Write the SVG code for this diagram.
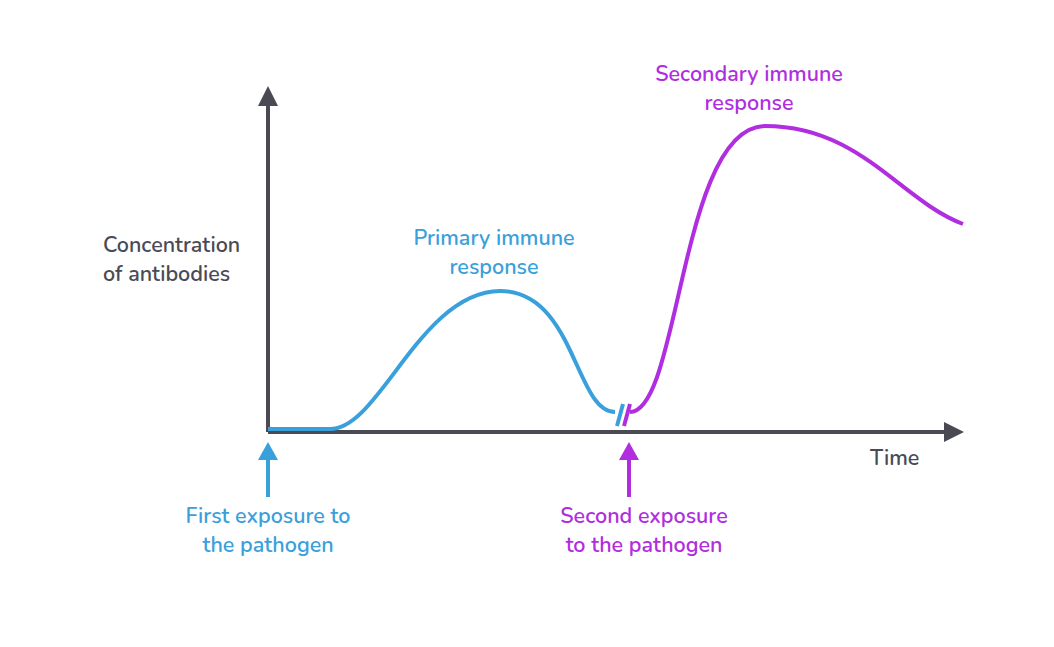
<svg xmlns="http://www.w3.org/2000/svg" width="1054" height="647" viewBox="0 0 1054 647">
<style>
text{font-family:"Nunito","Open Sans","Liberation Sans",sans-serif;font-size:21.5px;font-weight:600}
.ax{stroke:#4a4a55;stroke-width:4;fill:none}
.b{stroke:#3aa0dc;stroke-width:4;fill:none}
.p{stroke:#b02ee0;stroke-width:4;fill:none}
.tb{fill:#3aa0dc}.tp{fill:#b02ee0}.tg{fill:#4a4a55}
</style>
<rect width="1054" height="647" fill="#fff"/>
<g id="axes">
<path class="ax" d="M268,432 V104"/>
<polygon class="tg" points="258,106 268,86 278,106"/>
<path class="ax" d="M268,432 H946"/>
<polygon class="tg" points="944,422 964,432 944,442"/>
</g>
<g id="connectors">
<path class="b" d="M268,429 H330 C380,429 420,292 500,291 C575,291 575,412 615,412"/>
<path class="b" d="M617,426 L623,404"/>
<path class="p" d="M624,426 L630,404"/>
<path class="p" d="M630,412 C680,412 680,127 765,126 C860,126 900,200 963,224"/>
<path class="b" d="M268,497 V458"/>
<polygon class="tb" points="258,460 268,442 278,460"/>
<path class="p" d="M629,497 V458"/>
<polygon class="tp" points="619,460 629,442 639,460"/>
</g>
<g id="labels">
<text class="tg" x="103" y="252">Concentration</text>
<text class="tg" x="103" y="281">of antibodies</text>
<text class="tg" x="870" y="465">Time</text>
<text class="tb" x="494" y="245" text-anchor="middle">Primary immune</text>
<text class="tb" x="494" y="274" text-anchor="middle">response</text>
<text class="tp" x="749" y="81" text-anchor="middle">Secondary immune</text>
<text class="tp" x="749" y="110" text-anchor="middle">response</text>
<text class="tb" x="268" y="523" text-anchor="middle">First exposure to</text>
<text class="tb" x="268" y="552" text-anchor="middle">the pathogen</text>
<text class="tp" x="644" y="523" text-anchor="middle">Second exposure</text>
<text class="tp" x="644" y="552" text-anchor="middle">to the pathogen</text>
</g>
</svg>
